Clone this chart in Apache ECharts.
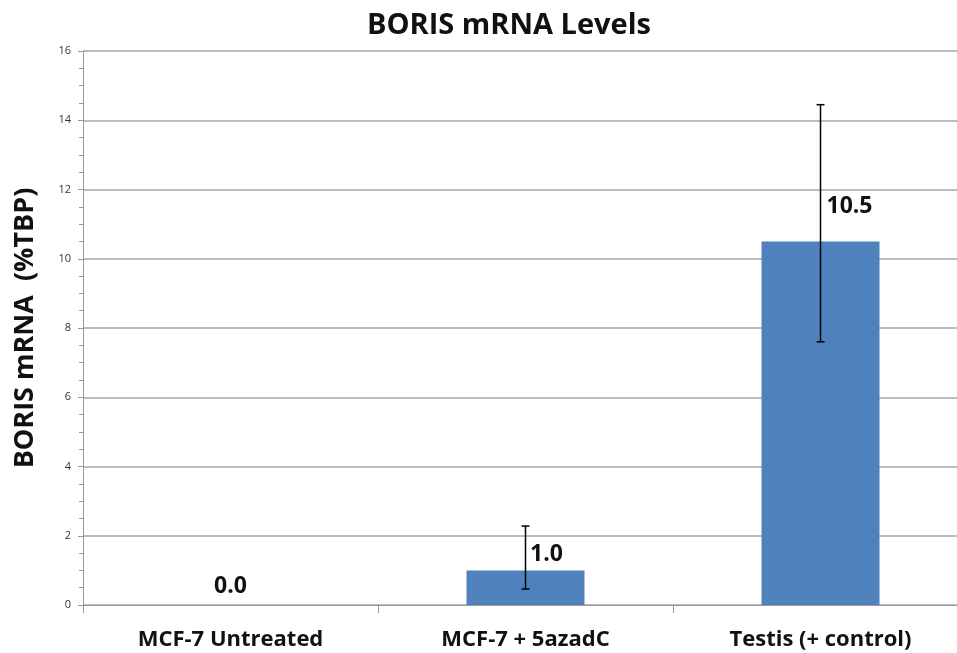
<!DOCTYPE html>
<html>
<head>
<meta charset="utf-8">
<script src="https://cdn.jsdelivr.net/npm/echarts@6/dist/echarts.min.js"></script>
<style>
  html, body { margin: 0; padding: 0; background: #fff; overflow: hidden; }
  /* plot runs past the right edge of the window, like the source picture */
  #chart { width: 985px; height: 653px; }
</style>
</head>
<body>
<div id="chart"></div>
<script>
// values
const categories = ["MCF-7 Untreated", "MCF-7 + 5azadC", "Testis (+ control)"];
const levels = [0.0, 1.0, 10.5];
const errLow = [0.0, 0.46, 7.6];
const errHigh = [0.0, 2.28, 14.45];

const chart = echarts.init(document.getElementById("chart"));
const font = "'Open Sans', Lato, sans-serif";

// label offsets per bar (the labels sit beside the error bars)
const labelOffsets = [[0, -2], [21, 1], [29, -18]];

const option = {
  animation: false,
  title: {
    text: "BORIS mRNA Levels",
    left: 504,
    top: 6,
    textAlign: "center",
    textStyle: { fontFamily: font, fontWeight: "bold", fontSize: 29, color: "#111" },
  },
  grid: { left: 83, top: 51, width: 885, height: 554 },
  xAxis: {
    type: "category",
    data: categories,
    axisLine: { lineStyle: { color: "#999", width: 1 } },
    axisTick: { show: true, length: 8, lineStyle: { color: "#999" } },
    axisLabel: {
      margin: 24,
      fontFamily: font,
      fontWeight: "bold",
      fontSize: 22,
      color: "#111",
    },
  },
  yAxis: {
    type: "value",
    min: 0,
    max: 16,
    interval: 2,
    name: "BORIS mRNA  (%TBP)",
    nameLocation: "middle",
    nameGap: 44,
    nameTextStyle: { fontFamily: font, fontWeight: "bold", fontSize: 27, color: "#111" },
    axisLine: { show: true, lineStyle: { color: "#999" } },
    axisTick: { show: true, length: 5, lineStyle: { color: "#999" } },
    minorTick: { show: true, splitNumber: 4, length: 4, lineStyle: { color: "#999" } },
    splitLine: { lineStyle: { color: "#a6a6a6", width: 1.5 } },
    axisLabel: { margin: 12, fontFamily: font, fontSize: 11, color: "#333" },
  },
  series: [
    {
      type: "bar",
      barWidth: "40%",
      itemStyle: { color: "#4f81bd" },
      data: levels.map((v, i) => ({
        value: v,
        label: { offset: labelOffsets[i] },
      })),
      label: {
        show: true,
        position: "top",
        formatter: (p) => p.value.toFixed(1),
        fontFamily: font,
        fontWeight: "bold",
        fontSize: 23,
        color: "#111",
      },
      z: 2,
    },
    {
      type: "custom",
      z: 3,
      data: errLow.map((lo, i) => [i, lo, errHigh[i]]),
      renderItem: function (params, api) {
        if (api.value(2) - api.value(1) <= 0) return;
        const low = api.coord([api.value(0), api.value(1)]);
        const high = api.coord([api.value(0), api.value(2)]);
        const cap = 4;
        const style = { stroke: "#000", lineWidth: 1.5 };
        return {
          type: "group",
          children: [
            { type: "line", shape: { x1: high[0], y1: high[1], x2: low[0], y2: low[1] }, style },
            { type: "line", shape: { x1: high[0] - cap, y1: high[1], x2: high[0] + cap, y2: high[1] }, style },
            { type: "line", shape: { x1: low[0] - cap, y1: low[1], x2: low[0] + cap, y2: low[1] }, style },
          ],
        };
      },
    },
  ],
};

chart.setOption(option);
</script>
</body>
</html>
